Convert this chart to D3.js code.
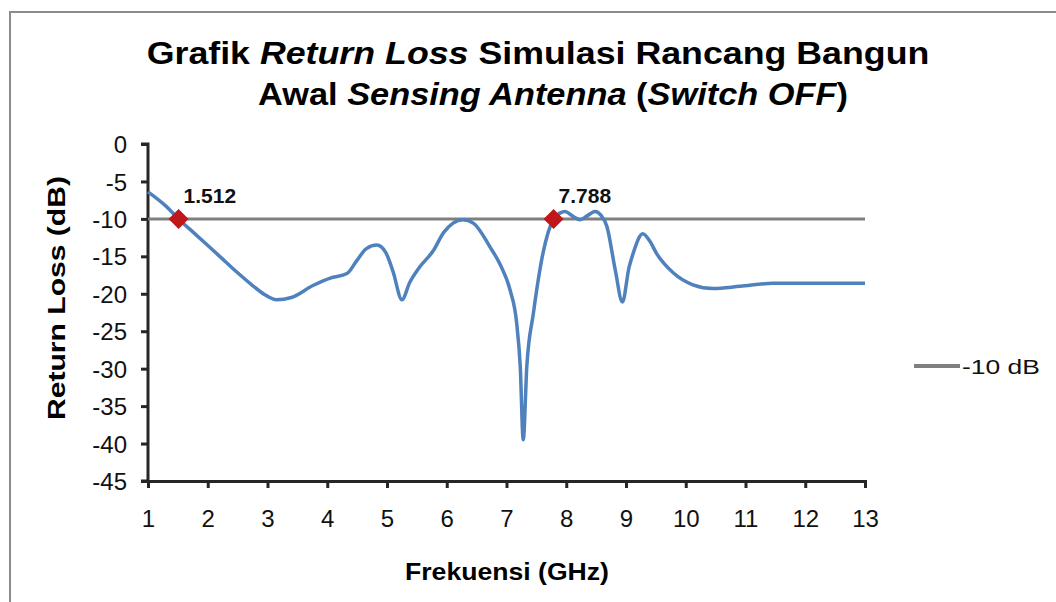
<!DOCTYPE html>
<html>
<head>
<meta charset="utf-8">
<script src="https://cdn.jsdelivr.net/npm/d3@7"></script>
<style>
  html, body { margin: 0; padding: 0; background: #fff; }
  svg { display: block; font-family: "Liberation Sans", Arial, sans-serif; }
</style>
</head>
<body>
<svg id="chart" width="1056" height="602"></svg>
<script>
// ---- data ----
const freqGHz = [1, 1.3, 1.512, 1.8, 2.2, 2.5, 2.75, 2.95, 3.15, 3.4, 3.76, 4.05, 4.33, 4.5, 4.65, 4.83, 4.98, 5.1, 5.25, 5.38, 5.55, 5.77, 5.95, 6.1, 6.27, 6.45, 6.72, 6.9, 7.06, 7.17, 7.23, 7.28, 7.34, 7.45, 7.61, 7.788, 7.9, 7.98, 8.1, 8.23, 8.35, 8.48, 8.58, 8.68, 8.82, 8.94, 9.05, 9.12, 9.28, 9.4, 9.51, 9.79, 10.12, 10.46, 10.91, 11.46, 12, 13];
const returnLossDb = [-6.4, -8.3, -10, -12.1, -15.0, -17.2, -18.9, -20.1, -20.8, -20.5, -18.9, -17.9, -17.3, -15.5, -14.0, -13.5, -14.5, -17, -20.8, -18.5, -16.4, -14.3, -11.8, -10.6, -10.1, -10.6, -13.7, -16.2, -19.5, -23.9, -29.7, -39.5, -29.7, -22.6, -14.6, -10, -9.2, -9.0, -9.6, -10.1, -9.6, -9.0, -9.5, -11.0, -16.8, -21.1, -16.5, -14.6, -12.0, -13.0, -14.6, -17.2, -18.8, -19.3, -19.0, -18.6, -18.6, -18.6];
const refFreq = [1, 13];
const refDb = [-10, -10];
const markerFreq = [1.512, 7.788];
const markerDb = [-10, -10];
const markerLabels = ["1.512", "7.788"];
const xTicks = [1, 2, 3, 4, 5, 6, 7, 8, 9, 10, 11, 12, 13];
const yTicks = [0, -5, -10, -15, -20, -25, -30, -35, -40, -45];
const legendLabel = "-10 dB";

const svg = d3.select("#chart");

// stretch factor so that a text element spans `target` px along its own direction
function fit(sel, target) {
  const w = sel.node().getBBox().width;
  return target / w;
}

// border (chart area frame)
svg.append("path").attr("d", "M10,602 L10,12 L1056,12")
  .attr("fill", "none").attr("stroke", "#8c8c8c").attr("stroke-width", 2);

const x = d3.scaleLinear().domain([1, 13]).range([148, 865]);
const y = d3.scaleLinear().domain([0, -45]).range([144, 481]);

// title (two lines)
function titleLine(parts, cx, cy, width) {
  const t = svg.append("text").attr("text-anchor", "middle")
    .attr("font-weight", "bold").attr("font-size", 31).attr("fill", "#000");
  parts.forEach(p => t.append("tspan").attr("font-style", p[1] ? "italic" : null).text(p[0]));
  const s = fit(t, width);
  t.attr("transform", `translate(${cx},${cy}) scale(${s},1)`);
}
titleLine([["Grafik ", 0], ["Return Loss", 1], [" Simulasi Rancang Bangun", 0]], 538, 64, 783);
titleLine([["Awal ", 0], ["Sensing Antenna", 1], [" (", 0], ["Switch OFF", 1], [")", 0]], 553, 105, 590);

// axes
const fmt = d => String(d);
const xAxis = svg.append("g").attr("transform", `translate(0,${y(-45)})`)
  .call(d3.axisBottom(x).tickValues(xTicks).tickSize(7).tickPadding(22).tickFormat(fmt));
const yAxis = svg.append("g").attr("transform", `translate(${x(1)},0)`)
  .call(d3.axisLeft(y).tickValues(yTicks).tickSize(7).tickPadding(14).tickFormat(fmt));
[xAxis, yAxis].forEach(g => {
  g.select(".domain").attr("stroke", "#262626").attr("stroke-width", 3);
  g.selectAll(".tick line").attr("stroke", "#262626").attr("stroke-width", 3);
  g.selectAll(".tick text").attr("font-size", 24).attr("fill", "#111")
    .attr("font-family", "Liberation Sans, Arial, sans-serif");
});
yAxis.selectAll(".domain").attr("d", `M-7,${y(0)}H0V${y(-45)}H-7`);
yAxis.selectAll(".tick text").attr("x", -21).attr("dy", "0.36em");

// axis titles
const xt = svg.append("text").attr("text-anchor", "middle")
  .attr("font-weight", "bold").attr("font-size", 24).text("Frekuensi (GHz)");
xt.attr("transform", `translate(507,580) scale(${fit(xt, 204)},1)`);
const yt = svg.append("text").attr("text-anchor", "middle")
  .attr("font-weight", "bold").attr("font-size", 23).text("Return Loss (dB)");
yt.attr("transform", `translate(65,298) rotate(-90) scale(${fit(yt, 244)},1)`);

// -10 dB reference line
const line = d3.line().x(d => x(d[0])).y(d => y(d[1]));
svg.append("path").datum(refFreq.map((f, i) => [f, refDb[i]]))
  .attr("d", line).attr("fill", "none").attr("stroke", "#7f7f7f").attr("stroke-width", 3);

// return loss curve
const curve = d3.line().x(d => x(d[0])).y(d => y(d[1])).curve(d3.curveMonotoneX);
svg.append("path").datum(freqGHz.map((f, i) => [f, returnLossDb[i]]))
  .attr("d", curve).attr("fill", "none").attr("stroke", "#4f81bd")
  .attr("stroke-width", 3.5).attr("stroke-linejoin", "round");

// markers
const sym = d3.symbol().type(d3.symbolSquare).size(200);
markerFreq.forEach((f, i) => {
  svg.append("path").attr("d", sym())
    .attr("transform", `translate(${x(f)},${y(markerDb[i])}) rotate(45)`)
    .attr("fill", "#c0171b");
  svg.append("text").attr("x", x(f) + 5).attr("y", y(markerDb[i]) - 16)
    .attr("font-weight", "bold").attr("font-size", 21).attr("fill", "#111")
    .text(markerLabels[i]);
});

// legend
svg.append("line").attr("x1", 914).attr("x2", 960).attr("y1", 366).attr("y2", 366)
  .attr("stroke", "#7f7f7f").attr("stroke-width", 4);
const lt = svg.append("text").attr("font-size", 21).attr("fill", "#111").text(legendLabel);
lt.attr("transform", `translate(962,374) scale(${fit(lt, 78)},1)`);
</script>
</body>
</html>
